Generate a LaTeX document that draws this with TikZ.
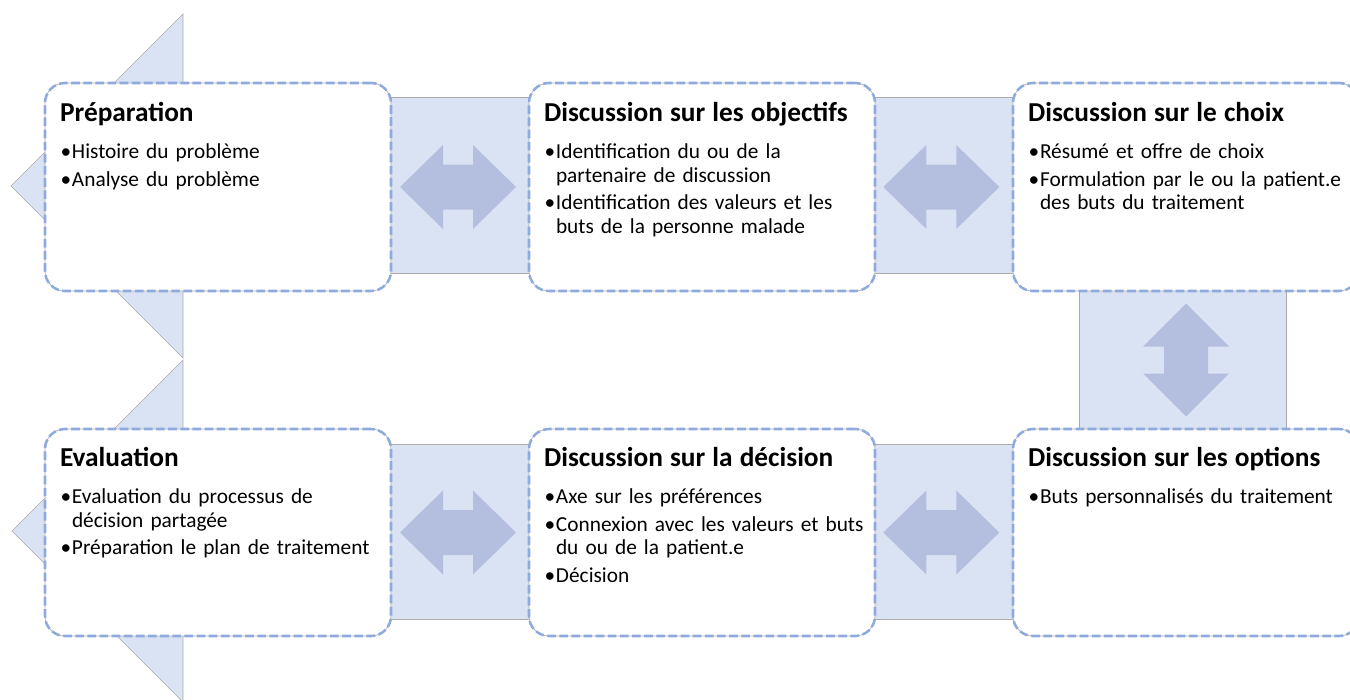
\documentclass[tikz,border=0pt]{standalone}
\usepackage{fontspec}
\setmainfont{Carlito}
\usetikzlibrary{calc}
\definecolor{bandfill}{HTML}{DAE3F3}
\definecolor{arrfill}{HTML}{B4BFE0}
\definecolor{boxline}{HTML}{8FAADC}
\definecolor{thinline}{HTML}{ABABAB}
\newcommand\titlefont{\fontsize{20.5pt}{24pt}\selectfont\bfseries}
\newcommand\bodyfont{\fontsize{16pt}{17.6pt}\selectfont}
\newcommand\bitem[1]{\par\vspace{3pt}\hangindent=9.75pt\hangafter=1\noindent\makebox[9.75pt][l]{\hspace{1.2pt}•}#1\par}
\newcommand\boxtitle[1]{{\titlefont\hspace{0.8pt}#1\par}\vspace{7.15pt}}
\pgfdeclarelayer{background}
\pgfsetlayers{background,main}
\tikzset{
  band/.style={fill=bandfill, draw=thinline, line width=0.5pt},
  dblarrow/.style={fill=arrfill, draw=none},
  stepbox/.style={draw=boxline, line width=1.9pt, dash pattern=on 6.5pt off 2.6pt,
    rounded corners=15pt, minimum width=259.5pt, minimum height=156pt, inner sep=0pt,
    preaction={fill=white, draw=thinline, line width=0.5pt, solid}},
  txt/.style={anchor=base west, inner sep=0pt, text width=255pt, align=left, font=\bodyfont},
}
\newcommand\hdarrow[1]{\fill[dblarrow] #1 ++(-58,0) -- ++(43,-42) -- ++(0,19.5) -- ++(30,0) -- ++(0,-19.5) -- ++(43,42) -- ++(-43,42) -- ++(0,-19.5) -- ++(-30,0) -- ++(0,19.5) -- cycle;}
\newcommand\vdarrow[1]{\fill[dblarrow] #1 ++(0,-56.5) -- ++(43,43) -- ++(-21,0) -- ++(0,27) -- ++(21,0) -- ++(-43,43) -- ++(-43,-43) -- ++(21,0) -- ++(0,-27) -- ++(-21,0) -- cycle;}
\begin{document}
\begin{tikzpicture}[x=0.75pt, y=-0.75pt]
\useasboundingbox (0,0) rectangle (1350,700);
\clip (0,0) rectangle (1350,700);
% boxes
\node[stepbox] (b1) at (218,187) {};
\node[stepbox] (b2) at (702,187) {};
\node[stepbox] (b3) at (1186,187) {};
\node[stepbox, minimum height=155.25pt] (b4) at (218,532.5) {};
\node[stepbox, minimum height=155.25pt] (b5) at (702,532.5) {};
\node[stepbox, minimum height=155.25pt] (b6) at (1186,532.5) {};
% texts
\node[txt] (t1) at ([xshift=11.25pt, yshift=-30pt]b1.north west) {\boxtitle{Préparation}\bitem{Histoire du problème}\bitem{Analyse du problème}};
\node[txt] (t2) at ([xshift=11.25pt, yshift=-30pt]b2.north west) {\boxtitle{Discussion sur les objectifs}\bitem{Identification du ou de la\newline partenaire de discussion}\bitem{Identification des valeurs et les\newline buts de la personne malade}};
\node[txt] (t3) at ([xshift=11.25pt, yshift=-30pt]b3.north west) {\boxtitle{Discussion sur le choix}\bitem{Résumé et offre de choix}\bitem{Formulation par le ou la patient.e\newline des buts du traitement}};
\node[txt] (t4) at ([xshift=11.25pt, yshift=-29.25pt]b4.north west) {\boxtitle{Evaluation}\bitem{Evaluation du processus de\newline décision partagée}\bitem{Préparation le plan de traitement}};
\node[txt] (t5) at ([xshift=11.25pt, yshift=-29.25pt]b5.north west) {\boxtitle{Discussion sur la décision}\bitem{Axe sur les préférences}\bitem{Connexion avec les valeurs et buts\newline du ou de la patient.e}\bitem{Décision}};
\node[txt] (t6) at ([xshift=11.25pt, yshift=-29.25pt]b6.north west) {\boxtitle{Discussion sur les options}\bitem{Buts personnalisés du traitement}};
\begin{pgfonlayer}{background}
% half diamonds
\filldraw[band] (183,14) -- (11,186) -- (183,358) -- cycle;
\filldraw[band] (183,360) -- (12,531) -- (183,702) -- cycle;
% bands
\filldraw[band] ($(b1.north east)+(-10,16)$) rectangle ($(b2.south west)+(10,-19)$);
\filldraw[band] ($(b2.north east)+(-10,16)$) rectangle ($(b3.south west)+(10,-19)$);
\filldraw[band] ($(b4.north east)+(-10,17)$) rectangle ($(b5.south west)+(10,-18)$);
\filldraw[band] ($(b5.north east)+(-10,17)$) rectangle ($(b6.south west)+(10,-18)$);
\filldraw[band] ($(b3.south)+(-107,-10)$) rectangle ($(b6.north)+(100,10)$);
% double arrows
\hdarrow{([xshift=-1.5pt]$(b1.east)!0.5!(b2.west)$)}
\hdarrow{([xshift=-2pt]$(b2.east)!0.5!(b3.west)$)}
\hdarrow{([xshift=-1.5pt]$(b4.east)!0.5!(b5.west)$)}
\hdarrow{([xshift=-2pt]$(b5.east)!0.5!(b6.west)$)}
\vdarrow{($(b3.south)!0.5!(b6.north)$)}
\end{pgfonlayer}
\end{tikzpicture}
\end{document}
